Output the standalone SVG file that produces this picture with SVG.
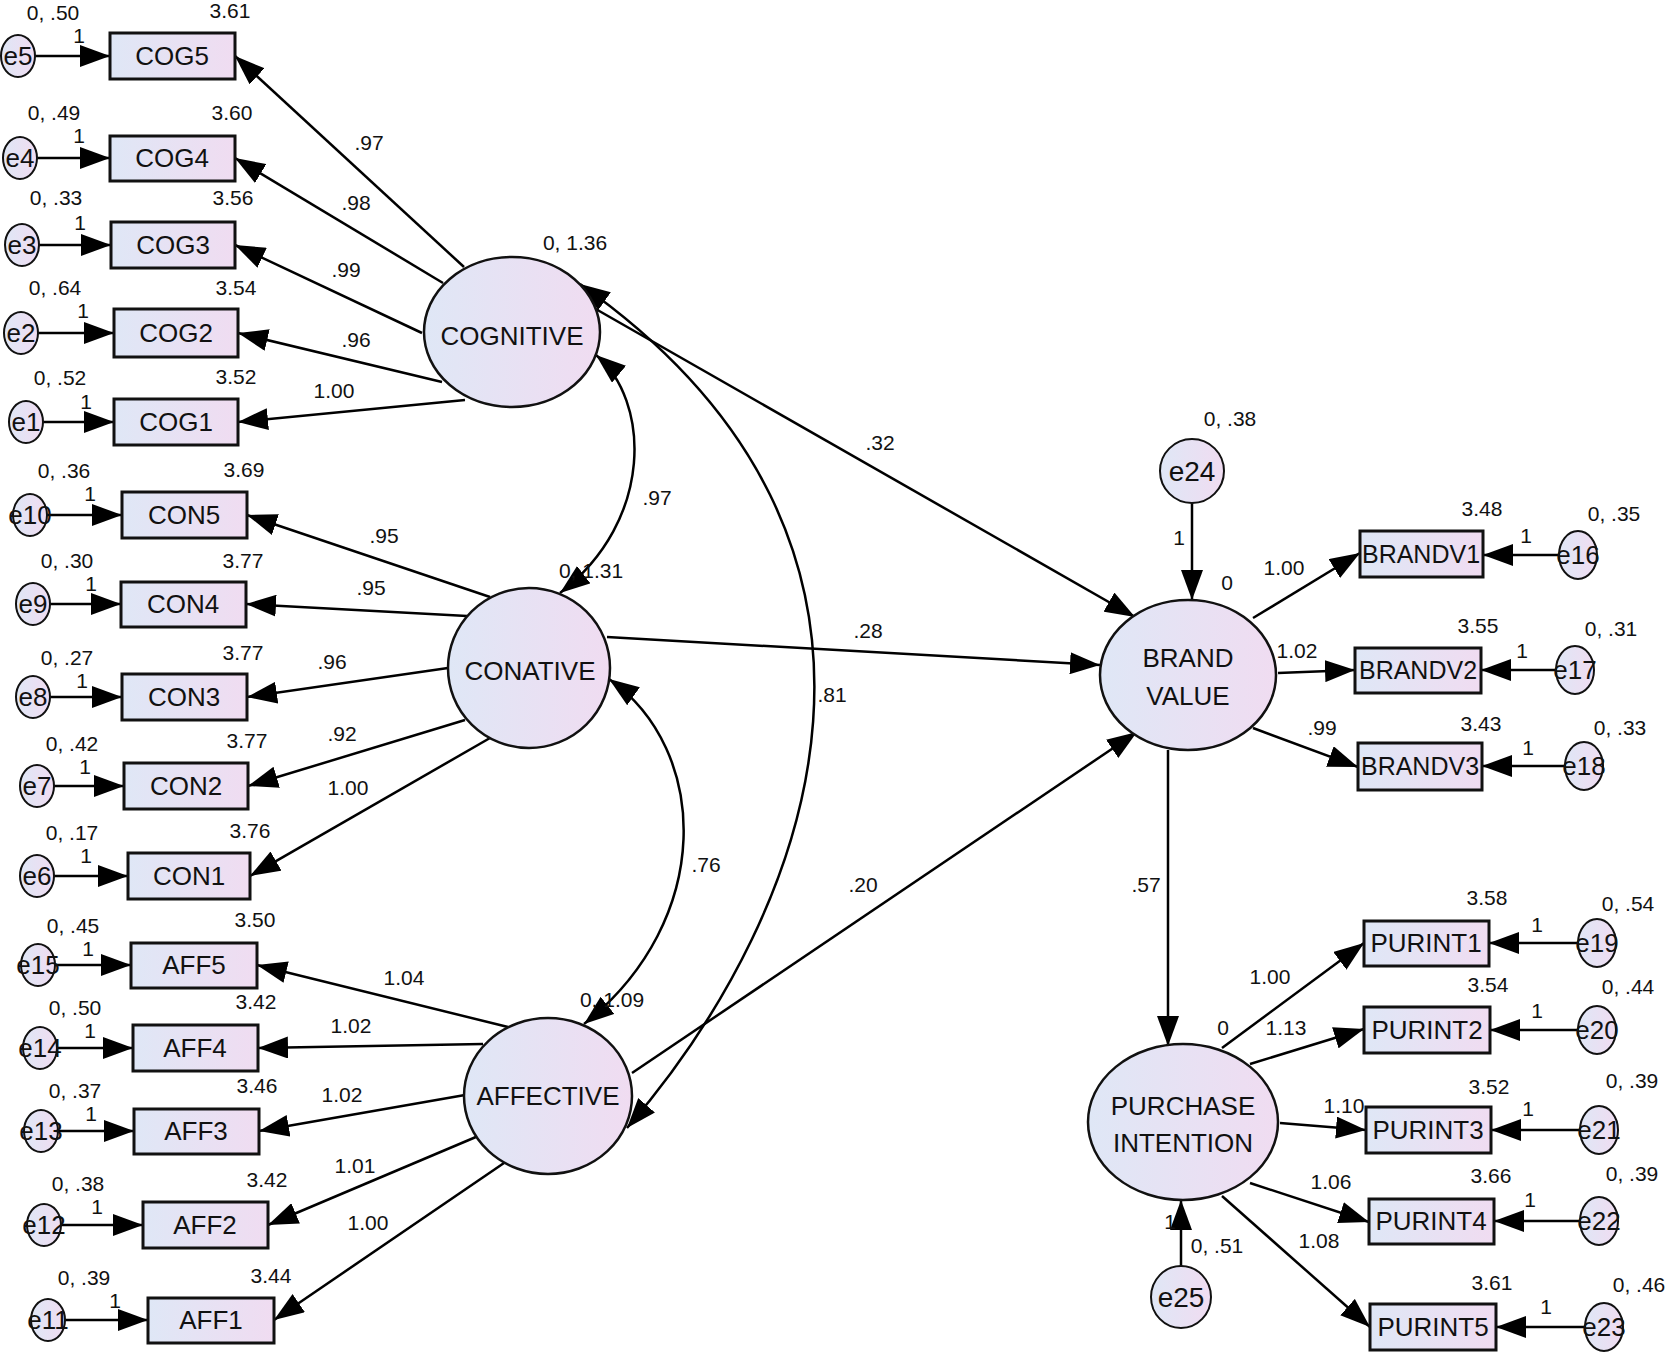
<svg xmlns="http://www.w3.org/2000/svg" width="1665" height="1354" viewBox="0 0 1665 1354">
<defs>
<linearGradient id="fillg" x1="0" y1="0" x2="1" y2="0">
<stop offset="0" stop-color="#dfe7f6"/>
<stop offset="1" stop-color="#f0dcf1"/>
</linearGradient>
<marker id="ah" viewBox="0 0 30 22" markerWidth="30" markerHeight="22" refX="30" refY="11" markerUnits="userSpaceOnUse" orient="auto-start-reverse">
<path d="M0,0 L30,11 L0,22 z" fill="#000"/>
</marker>
<style>
rect.box{fill:url(#fillg);stroke:#111;stroke-width:3}
ellipse.lat{fill:url(#fillg);stroke:#111;stroke-width:2.5}
ellipse.err{fill:url(#fillg);stroke:#111;stroke-width:2}
text{font-family:"Liberation Sans",Arial,sans-serif;fill:#111}
text.n{font-size:26px;text-anchor:middle}
text.l{font-size:21px;text-anchor:middle}
#connectors line,#connectors path{stroke:#000;stroke-width:2.5;fill:none;marker-end:url(#ah)}
#connectors path.cov{marker-start:url(#ah)}
</style>
</defs>
<rect width="1665" height="1354" fill="#fff"/>

<g id="connectors">
<!-- error to indicator -->
<line x1="35" y1="56" x2="110" y2="56"/>
<line x1="37" y1="158" x2="110" y2="158"/>
<line x1="39" y1="245" x2="111" y2="245"/>
<line x1="38" y1="333" x2="114" y2="333"/>
<line x1="43" y1="422" x2="114" y2="422"/>
<line x1="47" y1="515" x2="122" y2="515"/>
<line x1="50" y1="604" x2="121" y2="604"/>
<line x1="50" y1="697" x2="122" y2="697"/>
<line x1="54" y1="786" x2="124" y2="786"/>
<line x1="54" y1="876" x2="128" y2="876"/>
<line x1="55" y1="965" x2="131" y2="965"/>
<line x1="57" y1="1048" x2="133" y2="1048"/>
<line x1="58" y1="1131" x2="134" y2="1131"/>
<line x1="61" y1="1225" x2="143" y2="1225"/>
<line x1="65" y1="1320" x2="148" y2="1320"/>
<line x1="1559" y1="555" x2="1483" y2="555"/>
<line x1="1556" y1="670" x2="1481" y2="670"/>
<line x1="1565" y1="766" x2="1482" y2="766"/>
<line x1="1578" y1="943" x2="1489" y2="943"/>
<line x1="1578" y1="1030" x2="1490" y2="1030"/>
<line x1="1580" y1="1130" x2="1491" y2="1130"/>
<line x1="1580" y1="1221" x2="1494" y2="1221"/>
<line x1="1585" y1="1327" x2="1496" y2="1327"/>
<!-- latent to indicator -->
<line x1="464" y1="267" x2="235" y2="56"/>
<line x1="443" y1="283" x2="235" y2="158"/>
<line x1="422" y1="333" x2="235" y2="245"/>
<line x1="442" y1="382" x2="238" y2="333"/>
<line x1="465" y1="400" x2="238" y2="422"/>
<line x1="490" y1="597" x2="247" y2="515"/>
<line x1="467" y1="616" x2="246" y2="604"/>
<line x1="448" y1="668" x2="247" y2="697"/>
<line x1="465" y1="720" x2="248" y2="786"/>
<line x1="490" y1="738" x2="250" y2="876"/>
<line x1="508" y1="1027" x2="257" y2="965"/>
<line x1="483" y1="1044" x2="258" y2="1048"/>
<line x1="465" y1="1095" x2="259" y2="1131"/>
<line x1="483" y1="1134" x2="268" y2="1225"/>
<line x1="504" y1="1163" x2="274" y2="1320"/>
<!-- structural -->
<line x1="594" y1="308" x2="1135" y2="617"/>
<line x1="607" y1="637" x2="1100" y2="665"/>
<line x1="632" y1="1073" x2="1137" y2="732"/>
<line x1="1253" y1="618" x2="1360" y2="553"/>
<line x1="1278" y1="673" x2="1355" y2="670"/>
<line x1="1253" y1="728" x2="1358" y2="767"/>
<line x1="1168" y1="750" x2="1168" y2="1046"/>
<line x1="1192" y1="503" x2="1192" y2="600"/>
<line x1="1181" y1="1266" x2="1181" y2="1200"/>
<line x1="1222" y1="1048" x2="1364" y2="943"/>
<line x1="1250" y1="1064" x2="1364" y2="1029"/>
<line x1="1280" y1="1123" x2="1366" y2="1130"/>
<line x1="1250" y1="1183" x2="1369" y2="1222"/>
<line x1="1222" y1="1196" x2="1370" y2="1327"/>
<!-- covariances -->
<path class="cov" d="M596,355 C650,400 655,520 560,593"/>
<path class="cov" d="M609,679 C710,750 715,920 584,1024"/>
<path class="cov" d="M580,284 C950,544 816,909 627,1128"/>
</g>

<g id="node-COGNITIVE"><ellipse class="lat" cx="512" cy="332" rx="88" ry="75"/><text class="n" x="512" y="345">COGNITIVE</text></g>
<g id="node-CONATIVE"><ellipse class="lat" cx="529" cy="668" rx="81" ry="80"/><text class="n" x="530" y="680">CONATIVE</text></g>
<g id="node-AFFECTIVE"><ellipse class="lat" cx="548" cy="1096" rx="84" ry="78"/><text class="n" x="548" y="1105">AFFECTIVE</text></g>
<g id="node-BRANDVALUE"><ellipse class="lat" cx="1188" cy="675" rx="88" ry="75"/><text class="n" x="1188" y="667">BRAND</text><text class="n" x="1188" y="705">VALUE</text></g>
<g id="node-PURCHASEINTENTION"><ellipse class="lat" cx="1183" cy="1122" rx="95" ry="78"/><text class="n" x="1183" y="1115">PURCHASE</text><text class="n" x="1183" y="1152">INTENTION</text></g>

<g id="node-COG5"><rect class="box" x="110" y="33" width="125" height="46"/><text class="n" x="172" y="65">COG5</text></g>
<g id="node-COG4"><rect class="box" x="110" y="136" width="125" height="45"/><text class="n" x="172" y="167">COG4</text></g>
<g id="node-COG3"><rect class="box" x="111" y="222" width="124" height="46"/><text class="n" x="173" y="254">COG3</text></g>
<g id="node-COG2"><rect class="box" x="114" y="309" width="124" height="48"/><text class="n" x="176" y="342">COG2</text></g>
<g id="node-COG1"><rect class="box" x="114" y="399" width="124" height="46"/><text class="n" x="176" y="431">COG1</text></g>
<g id="node-CON5"><rect class="box" x="122" y="492" width="125" height="46"/><text class="n" x="184" y="524">CON5</text></g>
<g id="node-CON4"><rect class="box" x="121" y="582" width="125" height="45"/><text class="n" x="183" y="613">CON4</text></g>
<g id="node-CON3"><rect class="box" x="122" y="674" width="125" height="46"/><text class="n" x="184" y="706">CON3</text></g>
<g id="node-CON2"><rect class="box" x="124" y="763" width="124" height="46"/><text class="n" x="186" y="795">CON2</text></g>
<g id="node-CON1"><rect class="box" x="128" y="853" width="122" height="46"/><text class="n" x="189" y="885">CON1</text></g>
<g id="node-AFF5"><rect class="box" x="131" y="943" width="126" height="45"/><text class="n" x="194" y="974">AFF5</text></g>
<g id="node-AFF4"><rect class="box" x="133" y="1025" width="125" height="46"/><text class="n" x="195" y="1057">AFF4</text></g>
<g id="node-AFF3"><rect class="box" x="134" y="1109" width="125" height="45"/><text class="n" x="196" y="1140">AFF3</text></g>
<g id="node-AFF2"><rect class="box" x="143" y="1202" width="125" height="46"/><text class="n" x="205" y="1234">AFF2</text></g>
<g id="node-AFF1"><rect class="box" x="148" y="1298" width="126" height="45"/><text class="n" x="211" y="1329">AFF1</text></g>

<g id="node-BRANDV1"><rect class="box" x="1360" y="531" width="123" height="46"/><text class="n" x="1421" y="563" style="font-size:25px">BRANDV1</text></g>
<g id="node-BRANDV2"><rect class="box" x="1355" y="648" width="126" height="45"/><text class="n" x="1418" y="679" style="font-size:25px">BRANDV2</text></g>
<g id="node-BRANDV3"><rect class="box" x="1358" y="743" width="124" height="47"/><text class="n" x="1420" y="775" style="font-size:25px">BRANDV3</text></g>
<g id="node-PURINT1"><rect class="box" x="1364" y="921" width="125" height="45"/><text class="n" x="1426" y="952">PURINT1</text></g>
<g id="node-PURINT2"><rect class="box" x="1364" y="1007" width="126" height="46"/><text class="n" x="1427" y="1039">PURINT2</text></g>
<g id="node-PURINT3"><rect class="box" x="1366" y="1107" width="125" height="46"/><text class="n" x="1428" y="1139">PURINT3</text></g>
<g id="node-PURINT4"><rect class="box" x="1369" y="1199" width="125" height="45"/><text class="n" x="1431" y="1230">PURINT4</text></g>
<g id="node-PURINT5"><rect class="box" x="1370" y="1304" width="126" height="46"/><text class="n" x="1433" y="1336">PURINT5</text></g>

<g id="node-e5"><ellipse class="err" cx="18" cy="56" rx="17" ry="21"/><text class="n" x="18" y="65">e5</text></g>
<g id="node-e4"><ellipse class="err" cx="20" cy="158" rx="17" ry="21"/><text class="n" x="20" y="167">e4</text></g>
<g id="node-e3"><ellipse class="err" cx="22" cy="245" rx="17" ry="21"/><text class="n" x="22" y="254">e3</text></g>
<g id="node-e2"><ellipse class="err" cx="21" cy="333" rx="17" ry="21"/><text class="n" x="21" y="342">e2</text></g>
<g id="node-e1"><ellipse class="err" cx="26" cy="422" rx="17" ry="21"/><text class="n" x="26" y="431">e1</text></g>
<g id="node-e10"><ellipse class="err" cx="30" cy="515" rx="17" ry="21"/><text class="n" x="30" y="524">e10</text></g>
<g id="node-e9"><ellipse class="err" cx="33" cy="604" rx="17" ry="21"/><text class="n" x="33" y="613">e9</text></g>
<g id="node-e8"><ellipse class="err" cx="33" cy="697" rx="17" ry="21"/><text class="n" x="33" y="706">e8</text></g>
<g id="node-e7"><ellipse class="err" cx="37" cy="786" rx="17" ry="21"/><text class="n" x="37" y="795">e7</text></g>
<g id="node-e6"><ellipse class="err" cx="37" cy="876" rx="17" ry="21"/><text class="n" x="37" y="885">e6</text></g>
<g id="node-e15"><ellipse class="err" cx="38" cy="965" rx="17" ry="21"/><text class="n" x="38" y="974">e15</text></g>
<g id="node-e14"><ellipse class="err" cx="40" cy="1048" rx="17" ry="21"/><text class="n" x="40" y="1057">e14</text></g>
<g id="node-e13"><ellipse class="err" cx="41" cy="1131" rx="17" ry="21"/><text class="n" x="41" y="1140">e13</text></g>
<g id="node-e12"><ellipse class="err" cx="44" cy="1225" rx="17" ry="21"/><text class="n" x="44" y="1234">e12</text></g>
<g id="node-e11"><ellipse class="err" cx="48" cy="1320" rx="17" ry="21"/><text class="n" x="48" y="1329">e11</text></g>
<g id="node-e16"><ellipse class="err" cx="1578" cy="555" rx="19" ry="24"/><text class="n" x="1578" y="564">e16</text></g>
<g id="node-e17"><ellipse class="err" cx="1575" cy="670" rx="19" ry="24"/><text class="n" x="1575" y="679">e17</text></g>
<g id="node-e18"><ellipse class="err" cx="1584" cy="766" rx="19" ry="24"/><text class="n" x="1584" y="775">e18</text></g>
<g id="node-e19"><ellipse class="err" cx="1597" cy="943" rx="19" ry="24"/><text class="n" x="1597" y="952">e19</text></g>
<g id="node-e20"><ellipse class="err" cx="1597" cy="1030" rx="19" ry="24"/><text class="n" x="1597" y="1039">e20</text></g>
<g id="node-e21"><ellipse class="err" cx="1599" cy="1130" rx="19" ry="24"/><text class="n" x="1599" y="1139">e21</text></g>
<g id="node-e22"><ellipse class="err" cx="1599" cy="1221" rx="19" ry="24"/><text class="n" x="1599" y="1230">e22</text></g>
<g id="node-e23"><ellipse class="err" cx="1604" cy="1327" rx="19" ry="24"/><text class="n" x="1604" y="1336">e23</text></g>
<g id="node-e24"><ellipse class="err" cx="1192" cy="471" rx="32" ry="32"/><text class="n" x="1192" y="481" style="font-size:28px">e24</text></g>
<g id="node-e25"><ellipse class="err" cx="1181" cy="1297" rx="30" ry="31"/><text class="n" x="1181" y="1307" style="font-size:28px">e25</text></g>

<g id="labels">
<text class="l" x="53" y="20">0, .50</text><text class="l" x="230" y="18">3.61</text><text class="l" x="79" y="43">1</text>
<text class="l" x="54" y="120">0, .49</text><text class="l" x="232" y="120">3.60</text><text class="l" x="79" y="143">1</text>
<text class="l" x="56" y="205">0, .33</text><text class="l" x="233" y="205">3.56</text><text class="l" x="80" y="230">1</text>
<text class="l" x="55" y="295">0, .64</text><text class="l" x="236" y="295">3.54</text><text class="l" x="83" y="318">1</text>
<text class="l" x="60" y="385">0, .52</text><text class="l" x="236" y="384">3.52</text><text class="l" x="86" y="409">1</text>
<text class="l" x="64" y="478">0, .36</text><text class="l" x="244" y="477">3.69</text><text class="l" x="90" y="501">1</text>
<text class="l" x="67" y="568">0, .30</text><text class="l" x="243" y="568">3.77</text><text class="l" x="91" y="591">1</text>
<text class="l" x="67" y="665">0, .27</text><text class="l" x="243" y="660">3.77</text><text class="l" x="82" y="688">1</text>
<text class="l" x="72" y="751">0, .42</text><text class="l" x="247" y="748">3.77</text><text class="l" x="85" y="774">1</text>
<text class="l" x="72" y="840">0, .17</text><text class="l" x="250" y="838">3.76</text><text class="l" x="86" y="863">1</text>
<text class="l" x="73" y="933">0, .45</text><text class="l" x="255" y="927">3.50</text><text class="l" x="88" y="956">1</text>
<text class="l" x="75" y="1015">0, .50</text><text class="l" x="256" y="1009">3.42</text><text class="l" x="90" y="1038">1</text>
<text class="l" x="75" y="1098">0, .37</text><text class="l" x="257" y="1093">3.46</text><text class="l" x="91" y="1121">1</text>
<text class="l" x="78" y="1191">0, .38</text><text class="l" x="267" y="1187">3.42</text><text class="l" x="97" y="1214">1</text>
<text class="l" x="84" y="1285">0, .39</text><text class="l" x="271" y="1283">3.44</text><text class="l" x="115" y="1308">1</text>

<text class="l" x="369" y="150">.97</text><text class="l" x="356" y="210">.98</text><text class="l" x="346" y="277">.99</text><text class="l" x="356" y="347">.96</text><text class="l" x="334" y="398">1.00</text>
<text class="l" x="384" y="543">.95</text><text class="l" x="371" y="595">.95</text><text class="l" x="332" y="669">.96</text><text class="l" x="342" y="741">.92</text><text class="l" x="348" y="795">1.00</text>
<text class="l" x="404" y="985">1.04</text><text class="l" x="351" y="1033">1.02</text><text class="l" x="342" y="1102">1.02</text><text class="l" x="355" y="1173">1.01</text><text class="l" x="368" y="1230">1.00</text>

<text class="l" x="575" y="250">0, 1.36</text><text class="l" x="657" y="505">.97</text><text class="l" x="591" y="578">0, 1.31</text>
<text class="l" x="706" y="872">.76</text><text class="l" x="612" y="1007">0, 1.09</text>
<text class="l" x="880" y="450">.32</text><text class="l" x="868" y="638">.28</text><text class="l" x="832" y="702">.81</text><text class="l" x="863" y="892">.20</text>

<text class="l" x="1230" y="426">0, .38</text><text class="l" x="1179" y="545">1</text><text class="l" x="1227" y="590">0</text>
<text class="l" x="1284" y="575">1.00</text><text class="l" x="1297" y="658">1.02</text><text class="l" x="1322" y="735">.99</text>
<text class="l" x="1482" y="516">3.48</text><text class="l" x="1614" y="521">0, .35</text><text class="l" x="1526" y="543">1</text>
<text class="l" x="1478" y="633">3.55</text><text class="l" x="1611" y="636">0, .31</text><text class="l" x="1522" y="658">1</text>
<text class="l" x="1481" y="731">3.43</text><text class="l" x="1620" y="735">0, .33</text><text class="l" x="1528" y="755">1</text>
<text class="l" x="1146" y="892">.57</text><text class="l" x="1223" y="1035">0</text>
<text class="l" x="1487" y="905">3.58</text><text class="l" x="1628" y="911">0, .54</text><text class="l" x="1537" y="932">1</text><text class="l" x="1270" y="984">1.00</text>
<text class="l" x="1488" y="992">3.54</text><text class="l" x="1628" y="994">0, .44</text><text class="l" x="1537" y="1018">1</text><text class="l" x="1286" y="1035">1.13</text>
<text class="l" x="1489" y="1094">3.52</text><text class="l" x="1632" y="1088">0, .39</text><text class="l" x="1528" y="1116">1</text><text class="l" x="1344" y="1113">1.10</text>
<text class="l" x="1491" y="1183">3.66</text><text class="l" x="1632" y="1181">0, .39</text><text class="l" x="1530" y="1207">1</text><text class="l" x="1331" y="1189">1.06</text>
<text class="l" x="1492" y="1290">3.61</text><text class="l" x="1639" y="1292">0, .46</text><text class="l" x="1546" y="1314">1</text><text class="l" x="1319" y="1248">1.08</text>
<text class="l" x="1170" y="1229">1</text><text class="l" x="1217" y="1253">0, .51</text>
</g>
</svg>
